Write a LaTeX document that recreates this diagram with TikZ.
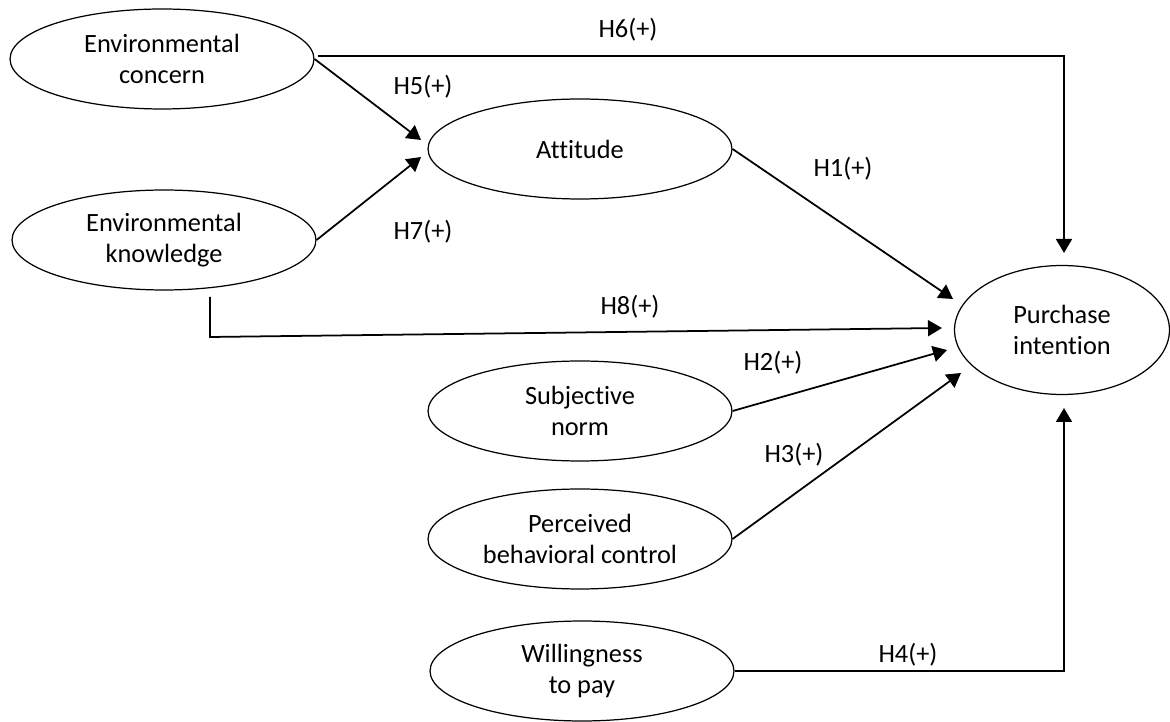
\documentclass[tikz,border=0pt]{standalone}
\usepackage{fontspec}
\setmainfont[Ligatures=NoCommon]{Carlito}
\usetikzlibrary{shapes.geometric,arrows.meta}

\begin{document}
\begin{tikzpicture}[x=0.02cm,y=-0.02cm,
  construct/.style={draw,ellipse,line width=0.7pt,inner sep=0pt,align=center,
    minimum width=6.08cm,minimum height=2cm,font=\fontsize{15}{18}\selectfont},
  path/.style={line width=1pt,-{Triangle[length=0.28cm,width=0.32cm]}},
  hyp/.style={font=\fontsize{15}{18}\selectfont}]
\useasboundingbox (0,0) rectangle (1170,722);

\node[construct] (ec) at (162,59) {Environmental\\concern};
\node[construct] (ek) at (164,240) {Environmental\\knowledge};
\node[construct] (att) at (580,149) {Attitude};
\node[construct] (sn) at (580,411) {Subjective\\norm};
\node[construct] (pbc) at (580,539) {Perceived\\behavioral control};
\node[construct] (wtp) at (582,671) {Willingness\\to pay};
\node[construct,minimum width=4.3cm,minimum height=2.58cm] (pi) at (1062,330) {Purchase\\intention};

\coordinate (h5tip) at (421,140);
\coordinate (h7tip) at (421,157);
\coordinate (h6tip) at (1064,253);
\coordinate (h1tip) at (953,299);
\coordinate (h8start) at (210,297);
\coordinate (h8corner) at (210,337);
\coordinate (h8tip) at (942,328);
\coordinate (h2tip) at (947,350);
\coordinate (h3tip) at (961,373);
\coordinate (h4tip) at (1064,408);

\draw[path] (ec.east) -- (h5tip);
\draw[path] (ek.east) -- (h7tip);
\draw[path] (ec.east) ++(3,-3) -| (h6tip);
\draw[path] (att.east) -- (h1tip);
\draw[path] (h8start) -- (h8corner) -- (h8tip);
\draw[path] (sn.east) -- (h2tip);
\draw[path] (pbc.east) -- (h3tip);
\draw[path] (wtp.east) -| (h4tip);

\node[hyp] (l6) at (628,30) {H6(+)};
\node[hyp] (l5) at (423,87) {H5(+)};
\node[hyp] (l7) at (423,232) {H7(+)};
\node[hyp] (l1) at (843,169) {H1(+)};
\node[hyp] (l8) at (630,307) {H8(+)};
\node[hyp] (l2) at (773,363) {H2(+)};
\node[hyp] (l3) at (794,455) {H3(+)};
\node[hyp] (l4) at (908,655) {H4(+)};
\end{tikzpicture}
\end{document}
